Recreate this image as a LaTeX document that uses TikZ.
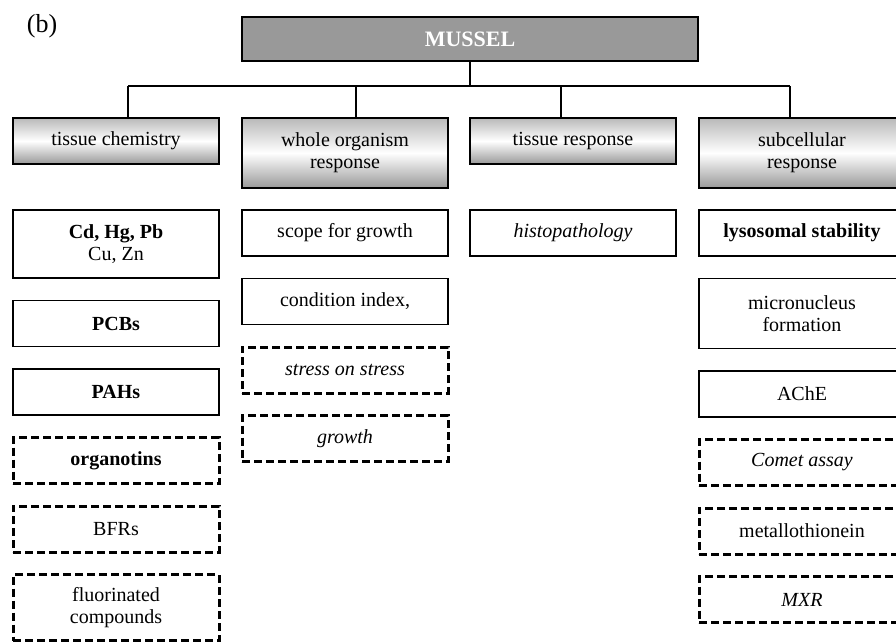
\documentclass[tikz,border=0pt]{standalone}
\usepackage{fontspec}
\setmainfont{Liberation Serif}
\usepackage{tikz}
\usetikzlibrary{positioning}
\usetikzlibrary{calc, shapes, backgrounds}
\tikzstyle{box} = [draw, line width=1.5pt, outer sep=0pt, minimum width=206pt, minimum height=46pt, inner sep=0pt, align=center, font=\fontsize{20}{22}\selectfont]
\tikzstyle{dashbox} = [box, line width=3pt, dash pattern=on 8pt off 4pt]
\tikzstyle{headbox} = [box, top color=gray!55, bottom color=gray!80, middle color=white]
\tikzstyle{link} = [line width=1.6pt]

\begin{document}
\begin{tikzpicture}[x=1pt, y=-1pt, node distance=22.5pt]
  \useasboundingbox (0,0) rectangle (896,642);
  \clip (0,0) rectangle (896,642);

  \node[font=\fontsize{26}{28}\selectfont] (Tag) at (42,26) {(b)};
  \node[draw, line width=1.2pt, fill=black!40, minimum width=456pt, minimum height=44pt,
        text=white, font=\bfseries\fontsize{22}{24}\selectfont] (Mussel) at (470,39) {MUSSEL};

  % level 1
  \node[headbox, anchor=north] (Chem) at (116,118) {tissue chemistry};
  \node[headbox, anchor=north, minimum height=70pt] (Whole) at (345,118) {whole organism\\response};
  \node[headbox, anchor=north] (Tissue) at (573,118) {tissue response};
  \node[headbox, anchor=north, minimum height=70pt] (Sub) at (802,118) {subcellular\\response};

  % connectors
  \coordinate (DropA) at (128,86);
  \coordinate (DropB) at (356,86);
  \coordinate (DropC) at (561,86);
  \coordinate (DropD) at (790,86);
  \draw[link] (Mussel.south) -- (Mussel.south |- DropA);
  \draw[link] (DropA) -- (DropD);
  \draw[link] (DropA) -- (DropA |- Chem.north);
  \draw[link] (DropB) -- (DropB |- Whole.north);
  \draw[link] (DropC) -- (DropC |- Tissue.north);
  \draw[link] (DropD) -- (DropD |- Sub.north);

  % tissue chemistry
  \node[box, anchor=north, minimum height=68pt] (Metals) at (116,210) {\textbf{Cd, Hg, Pb}\\Cu, Zn};
  \node[box, below=of Metals] (PCB) {\textbf{PCBs}};
  \node[box, below=of PCB] (PAH) {\textbf{PAHs}};
  \node[dashbox, below=of PAH] (Organotin) {\textbf{organotins}};
  \node[dashbox, below=of Organotin] (BFR) {BFRs};
  \node[dashbox, below=of BFR, minimum height=66pt] (Fluor) {fluorinated\\compounds};

  % whole organism
  \node[box, anchor=north] (Scope) at (345,210) {scope for growth};
  \node[box, below=of Scope] (Cond) {condition index,};
  \node[dashbox, below=of Cond] (Stress) {\textit{stress on stress}};
  \node[dashbox, below=of Stress] (Growth) {\textit{growth}};

  % tissue
  \node[box, anchor=north] (Histo) at (573,210) {\textit{histopathology}};

  % subcellular
  \node[box, anchor=north] (Lyso) at (802,210) {\textbf{lysosomal stability}};
  \node[box, below=of Lyso, minimum height=70pt] (Micro) {micronucleus\\formation};
  \node[box, below=of Micro] (AChE) {AChE};
  \node[dashbox, below=of AChE] (Comet) {\textit{Comet assay}};
  \node[dashbox, below=of Comet] (Metallo) {metallothionein};
  \node[dashbox, below=of Metallo] (MXR) {\textit{MXR}};
\end{tikzpicture}
\end{document}
